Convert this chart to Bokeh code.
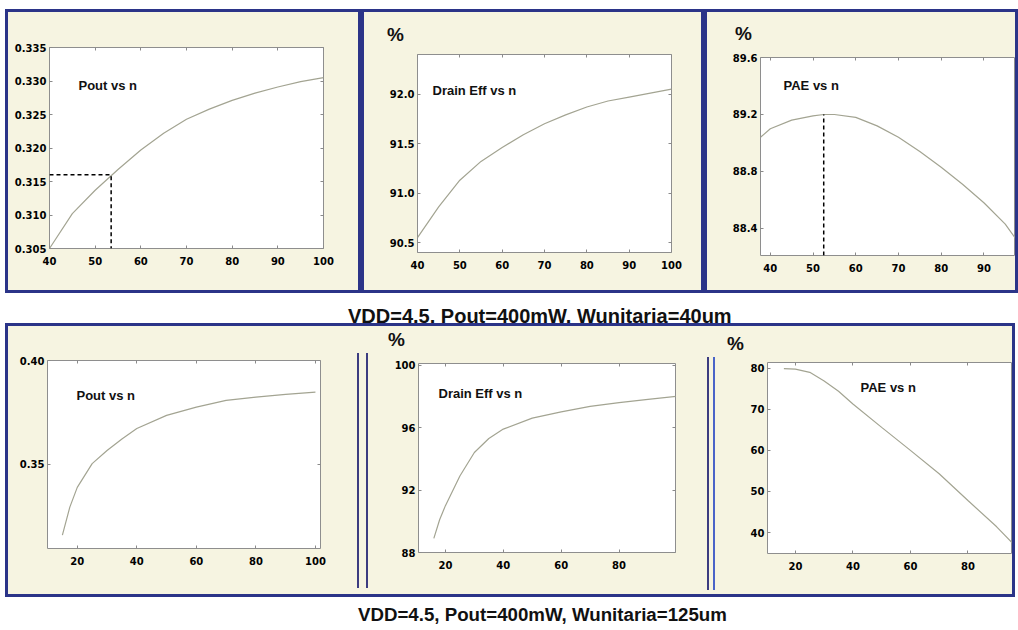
from bokeh.plotting import figure
from bokeh.layouts import column, row
from bokeh.models import Div, Spacer, Label, Range1d, FixedTicker, PrintfTickFormatter, LinearAxis
from bokeh.embed import file_html
from bokeh.resources import INLINE

# ---------------- data ----------------
# top row: Wunitaria = 40um
n_pout_top = [40, 45, 50, 55, 60, 65, 70, 75, 80, 85, 90, 95, 100]
pout_top = [0.3050, 0.3102, 0.3137, 0.3168, 0.3197, 0.3222, 0.3243, 0.3258, 0.3271, 0.3282, 0.3291, 0.3299, 0.3305]
n_eff_top = [40, 45, 50, 55, 60, 65, 70, 75, 80, 85, 90, 95, 100]
eff_top = [90.55, 90.86, 91.13, 91.32, 91.46, 91.59, 91.70, 91.79, 91.87, 91.93, 91.97, 92.01, 92.05]
n_pae_top = [37.7, 40, 45, 50, 52.5, 55, 60, 65, 70, 75, 80, 85, 90, 95, 97.4]
pae_top = [89.04, 89.10, 89.16, 89.19, 89.20, 89.20, 89.18, 89.12, 89.04, 88.94, 88.83, 88.71, 88.58, 88.43, 88.33]
pout_top_mark_n = 53.5
pout_top_mark = 0.316
pae_top_peak_n = 52.5
pae_top_peak = 89.2

# bottom row: Wunitaria = 125um
n_pout_bot = [15, 17.5, 20, 25, 30, 35, 40, 50, 60, 70, 80, 90, 100]
pout_bot = [0.316, 0.3295, 0.339, 0.3504, 0.3567, 0.3623, 0.3673, 0.3736, 0.3776, 0.3808, 0.3824, 0.3837, 0.3848]
n_eff_bot = [16, 18, 20, 25, 30, 35, 40, 50, 60, 70, 80, 90, 100]
eff_bot = [88.9, 90.1, 91.0, 92.9, 94.4, 95.3, 95.9, 96.6, 97.0, 97.35, 97.6, 97.8, 98.0]
n_pae_bot = [16, 20, 25, 30, 35, 40, 50, 60, 70, 80, 90, 95.7]
pae_bot = [79.9, 79.8, 79.0, 76.9, 74.4, 71.3, 65.6, 60.0, 54.3, 47.8, 41.4, 37.3]

# tick labels
xt_top = [40, 50, 60, 70, 80, 90, 100]
xt_top_pae = [40, 50, 60, 70, 80, 90]
xt_bot = [20, 40, 60, 80, 100]
xt_bot_pae = [20, 40, 60, 80]
yt_pout_top = [0.305, 0.310, 0.315, 0.320, 0.325, 0.330, 0.335]
yt_eff_top = [90.5, 91.0, 91.5, 92.0]
yt_pae_top = [88.4, 88.8, 89.2, 89.6]
yt_pout_bot = [0.35, 0.40]
yt_eff_bot = [88, 92, 96, 100]
yt_pae_bot = [40, 50, 60, 70, 80]

titles = ["Pout vs n", "Drain Eff vs n", "PAE vs n"]
unit_label = "%"
caption_top = "VDD=4.5, Pout=400mW, Wunitaria=40um"
caption_bot = "VDD=4.5, Pout=400mW, Wunitaria=125um"

# ---------------- styles ----------------
CREAM = "#f6f4e1"
BLUE = "#2b3488"
SEP = "#3c3c80"
SEP2 = "#4a64c8"
CURVE = "#a3a492"
TICKC = "#8a8a8a"
TICKFONT = "DejaVu Sans"
TXTFONT = "Liberation Sans"
BG = {"background-color": CREAM}


def bar(w, h, color=BLUE):
    return Div(text="", width=w, height=h, margin=(0, 0, 0, 0),
               styles={"background-color": color})


def pct_div(w, h, left, top):
    # line-height 14px puts the glyph top at the span top
    return Div(text=f'<div style="position:relative;width:{w}px;height:{h}px;background:{CREAM};">'
                    f'<span style="position:absolute;left:{left}px;top:{top}px;font-family:\'{TXTFONT}\';'
                    f'font-weight:bold;font-size:19px;line-height:14px;color:#111;">{unit_label}</span></div>',
               width=w, height=h, margin=(0, 0, 0, 0), styles={"background-color": CREAM})


def mirror(p, side, ticks):
    ax = LinearAxis(ticker=FixedTicker(ticks=ticks), axis_line_color=None,
                    major_tick_in=3, major_tick_out=0, major_tick_line_color=TICKC,
                    minor_tick_line_color=None, major_label_text_color=None,
                    major_label_text_font_size="0px", major_label_standoff=0)
    p.add_layout(ax, side)


def panel(w, h, L, R, T, B, xr, yr, xt, yt, yfmt, title, tpos, right_ticks=True):
    p = figure(width=w, height=h, x_range=Range1d(*xr), y_range=Range1d(*yr),
               output_backend="svg", toolbar_location=None,
               min_border_left=L, min_border_right=R, min_border_top=T, min_border_bottom=B,
               background_fill_color="white", border_fill_color=CREAM,
               outline_line_color="#8e8e8e", outline_line_width=1, margin=(0, 0, 0, 0))
    p.grid.visible = False
    for ax in (p.xaxis[0], p.yaxis[0]):
        ax.axis_line_color = None
        ax.major_tick_in = 3
        ax.major_tick_out = 0
        ax.major_tick_line_color = TICKC
        ax.minor_tick_line_color = None
        ax.major_label_text_font = TICKFONT
        ax.major_label_text_font_style = "bold"
        ax.major_label_text_font_size = "10px"
        ax.major_label_text_color = "black"
    p.xaxis[0].ticker = FixedTicker(ticks=xt)
    p.yaxis[0].ticker = FixedTicker(ticks=yt)
    p.yaxis[0].formatter = PrintfTickFormatter(format=yfmt)
    p.xaxis[0].major_label_standoff = 8
    p.yaxis[0].major_label_standoff = 3
    mirror(p, "above", xt)
    if right_ticks:
        mirror(p, "right", yt)
    p.add_layout(Label(x=tpos[0], y=tpos[1], x_units="canvas", y_units="canvas", text=title,
                       text_font=TXTFONT, text_font_style="bold", text_font_size="13px",
                       text_baseline="top", text_color="#111111"))
    return p


def boxed(content, w, h):
    return column(bar(w, 3),
                  row(bar(3, h - 6), content, bar(3, h - 6), spacing=0, styles=BG),
                  bar(w, 3), spacing=0, styles=BG)


def vline(h, top, length, color, w=2):
    return column(bar(w, top, CREAM), bar(w, length, color), bar(w, h - top - length, CREAM), spacing=0)


# ---------------- top row ----------------
HT = 278
PH = 32  # height of the "%" strip above a chart
p1 = panel(350, HT, 41, 35, 35, 42, (40, 100), (0.305, 0.335), xt_top, yt_pout_top, "%.3f",
           titles[0], (70, 65))
p1.line(n_pout_top, pout_top, line_color=CURVE, line_width=1.2)
p1.line([n_pout_top[0], pout_top_mark_n, pout_top_mark_n], [pout_top_mark, pout_top_mark, 0.305],
        line_color="black", line_width=1.5, line_dash="4 3")

p2 = panel(337, HT - PH, 53, 30, 42 - PH, 38, (40, 100), (90.4, 92.4), xt_top, yt_eff_top, "%.1f",
           titles[1], (68, 70 - PH))
p2.line(n_eff_top, eff_top, line_color=CURVE, line_width=1.2)

p3 = panel(308, HT - PH, 53, 0, 45 - PH, 35, (37.7, 97.4), (88.21, 89.6), xt_top_pae, yt_pae_top, "%.1f",
           titles[2], (76, 65 - PH), right_ticks=False)
p3.line(n_pae_top, pae_top, line_color=CURVE, line_width=1.2)
p3.line([pae_top_peak_n, pae_top_peak_n], [88.21, pae_top_peak],
        line_color="black", line_width=1.5, line_dash="4 3")

top_row = row(Spacer(width=5, height=284),
              boxed(p1, 356, 284),
              boxed(column(pct_div(337, PH, 23, 16), p2, spacing=0, styles=BG), 343, 284),
              boxed(column(pct_div(308, PH, 28, 15), p3, spacing=0, styles=BG), 314, 284),
              spacing=0)

# ---------------- bottom row ----------------
HB = 268
PB = 28
p4 = panel(349, HB, 39, 37, 34, 46, (10, 101.7), (0.3096, 0.40), xt_bot, yt_pout_bot, "%.2f",
           titles[0], (68, 61))
p4.line(n_pout_bot, pout_bot, line_color=CURVE, line_width=1.2)

p5 = panel(337, HB - PB, 48, 32, 37 - PB, 42, (10.7, 99.5), (88.0, 100.1), xt_bot, yt_eff_bot, "%d",
           titles[1], (68, 59 - PB))
p5.line(n_eff_bot, eff_bot, line_color=CURVE, line_width=1.2)

p6 = panel(296, HB - PB, 51, 0, 36 - PB, 41, (10.3, 95.5), (34.9, 81.4), xt_bot_pae, yt_pae_bot, "%d",
           titles[2], (144, 53 - PB), right_ticks=False)
p6.line(n_pae_bot, pae_bot, line_color=CURVE, line_width=1.2)

sep1 = row(vline(HB, 27, 235, SEP), bar(7, HB, CREAM), vline(HB, 27, 235, SEP), bar(2, HB, CREAM), spacing=0)
sep2 = row(vline(HB, 31, 233, SEP), bar(4, HB, CREAM), vline(HB, 31, 233, SEP2), bar(1, HB, CREAM), spacing=0)

bot_inner = row(p4, sep1,
                column(pct_div(337, PB, 18, 7), p5, spacing=0, styles=BG),
                sep2,
                column(pct_div(296, PB, 11, 11), p6, spacing=0, styles=BG),
                spacing=0, styles=BG)
bot_box = column(bar(1010, 3), row(bar(3, HB), bot_inner, bar(3, HB), spacing=0, styles=BG),
                 bar(1010, 3), spacing=0, styles=BG)
bot_row = row(Spacer(width=5, height=274), bot_box, spacing=0)

cap_style = "font-family:'Liberation Sans';font-weight:bold;color:#111;white-space:nowrap;"
cap1 = Div(text=f'<div style="{cap_style}font-size:20px;line-height:20px;padding-top:13px;padding-left:348px;">{caption_top}</div>',
           width=1018, height=30, margin=(0, 0, 0, 0))
cap2 = Div(text=f'<div style="{cap_style}font-size:18.7px;line-height:19px;padding-top:8px;padding-left:358px;">{caption_bot}</div>',
           width=1018, height=33, margin=(0, 0, 0, 0))

layout = column(Spacer(width=1018, height=9), top_row, cap1, bot_row, cap2, spacing=0)
open("out.html", "w").write(file_html(layout, INLINE))
